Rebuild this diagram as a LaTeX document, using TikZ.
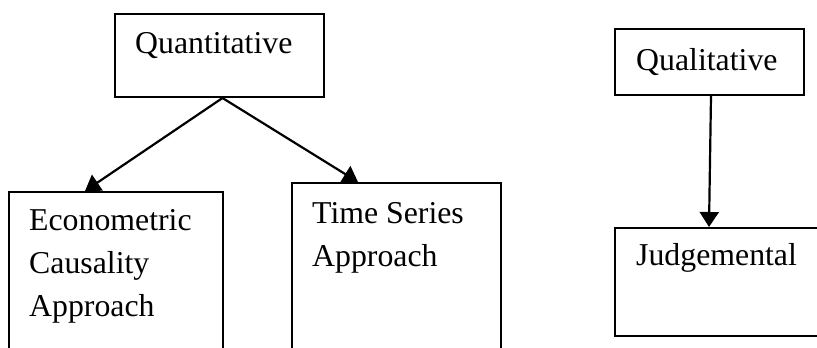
\documentclass[tikz,border=0pt]{standalone}
\usepackage{fontspec}
\setmainfont{Liberation Serif}
\usetikzlibrary{arrows.meta,calc}
\begin{document}
\begin{tikzpicture}[x=1pt,y=-1pt,
  box/.style={draw=black,line width=2pt,rectangle,inner sep=0pt,anchor=north west},
  txt/.style={inner sep=0pt,align=left,anchor=base west,font=\fontsize{31.8}{43}\selectfont},
  arr/.style={line width=2.2pt,-{Triangle[length=15pt,width=19pt]}}]
\useasboundingbox (0,0) rectangle (817,348);
\fill[white] (0,0) rectangle (817,348);
\clip (0,0) rectangle (817,348);
\node[box,minimum width=209pt,minimum height=83pt] (quant) at (114,13) {};
\node[box,minimum width=214pt,minimum height=220pt] (econ) at (8,191) {};
\node[box,minimum width=209pt,minimum height=220pt] (time) at (291,182) {};
\node[box,minimum width=189pt,minimum height=66pt] (qual) at (614,28) {};
\node[box,minimum width=230pt,minimum height=108pt] (judg) at (614,227) {};
\node[txt] (quanttxt) at (135,53) {Quantitative};
\node[txt] (econtxt) at (29,316) {Econometric\\Causality\\Approach};
\node[txt] (timetxt) at (312,266) {Time Series\\Approach};
\node[txt] (qualtxt) at (636,70) {Qualitative};
\node[txt] (judgtxt) at (636,265) {Judgemental};
\coordinate (qs) at ($(quant.south)+(3,0)$);
\coordinate (et) at ($(econ.north west)+(77,0)$);
\coordinate (tt) at ($(time.north west)+(67,0)$);
\coordinate (ls) at ($(qual.south)+(1.5,0)$);
\coordinate (jt) at ($(judg.north west)+(95,0)$);
\draw[arr] (qs) -- (et);
\draw[arr] (qs) -- (tt);
\draw[arr] (ls) -- (jt);
\end{tikzpicture}
\end{document}
